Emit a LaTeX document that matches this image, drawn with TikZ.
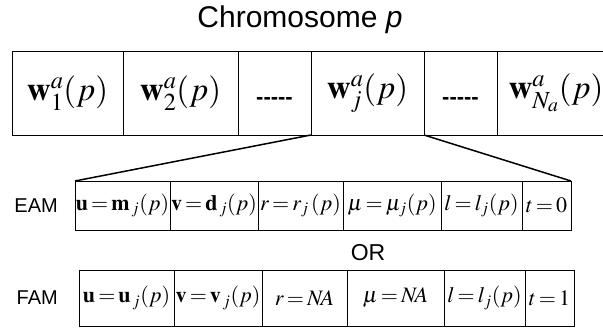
\documentclass[tikz,border=0pt]{standalone}
\usepackage{mathptmx}
\usepackage[no-math]{fontspec}
\setmainfont{Liberation Serif}
\setsansfont{Liberation Sans}
\usepackage{tikz}
\usetikzlibrary{positioning}
\newcommand{\tightmath}{\thickmuskip 2.5mu\relax}
\tikzset{
  gene/.style={draw=black,line width=0.8pt,anchor=west,inner sep=0pt,outer sep=0pt,minimum height=84pt,font=\fontsize{33}{38}\selectfont},
  slot/.style={draw=black,line width=0.7pt,anchor=west,inner sep=0pt,outer sep=0pt,font=\fontsize{22}{26}\selectfont\tightmath},
  eamslot/.style={slot,minimum height=49pt},
  famslot/.style={slot,minimum height=56pt},
  lbl/.style={font=\sffamily\fontsize{20}{24}\selectfont,inner sep=0pt},
  zoomline/.style={draw=black,line width=1.5pt},
}
\newcommand{\gap}{\vphantom{$(p)$}\raisebox{-3pt}{\sffamily\bfseries\fontsize{22}{26}\selectfont -\kern0pt-\kern0pt-\kern0pt-\kern0pt-}}

\begin{document}
\begin{tikzpicture}[x=1pt,y=-1pt]
  \clip (0,0) rectangle (603,331);
  % chromosome
  \node[font=\sffamily\fontsize{30}{36}\selectfont,inner sep=0pt] (title) at (300,20) {Chromosome \textit{p}};
  \node[gene,minimum width=111pt] (g1) at (12,93) {$\mathbf{w}_1^a(p)$};
  \node[gene,minimum width=115pt,right=0pt of g1] (g2) {$\mathbf{w}_2^a(p)$};
  \node[gene,minimum width=73pt,right=0pt of g2] (g3) {\gap};
  \node[gene,minimum width=113pt,right=0pt of g3] (g4) {$\mathbf{w}_j^a(p)$};
  \node[gene,minimum width=73pt,right=0pt of g4] (g5) {\gap};
  \node[gene,minimum width=118pt,right=0pt of g5] (g6) {$\mathbf{w}_{N_a}^a(p)$};
  % EAM row
  \node[eamslot,minimum width=95pt] (e1) at (75,205.5) {$\mathbf{u}=\mathbf{m}_{\mkern2mu j}(p)$};
  \node[eamslot,minimum width=88pt,right=0pt of e1] (e2) {$\mathbf{v}=\mathbf{d}_{\mkern2mu j}(p)$};
  \node[eamslot,minimum width=85pt,right=0pt of e2] (e3) {$r=r_j\,(p)$};
  \node[eamslot,minimum width=98pt,right=0pt of e3] (e4) {$\mu=\mu_j(p)$};
  \node[eamslot,minimum width=81pt,right=0pt of e4] (e5) {$l=l_j(p)$};
  \node[eamslot,minimum width=49pt,right=0pt of e5] (e6) {$t=0$};
  \node[lbl,left=17pt of e1] (eam) {EAM};
  \draw[zoomline] (g4.south west) -- (e1.north west);
  \draw[zoomline] (g4.south east) -- (e6.north east);
  \node[lbl,font=\sffamily\fontsize{23}{27}\selectfont] (or) at (368,253) {OR};
  % FAM row
  \node[famslot,minimum width=95pt] (f1) at (79,298) {$\mathbf{u}=\mathbf{u}_{\mkern2mu j}(p)$};
  \node[famslot,minimum width=88pt,right=0pt of f1] (f2) {$\mathbf{v}=\mathbf{v}_{\mkern2mu j}(p)$};
  \node[famslot,minimum width=85pt,right=0pt of f2] (f3) {$r=N\!A$};
  \node[famslot,minimum width=97pt,right=0pt of f3] (f4) {$\mu=N\!A$};
  \node[famslot,minimum width=81pt,right=0pt of f4] (f5) {$l=l_j(p)$};
  \node[famslot,minimum width=49pt,right=0pt of f5] (f6) {$t=1$};
  \node[lbl,left=21pt of f1] (fam) {FAM};
\end{tikzpicture}
\end{document}
